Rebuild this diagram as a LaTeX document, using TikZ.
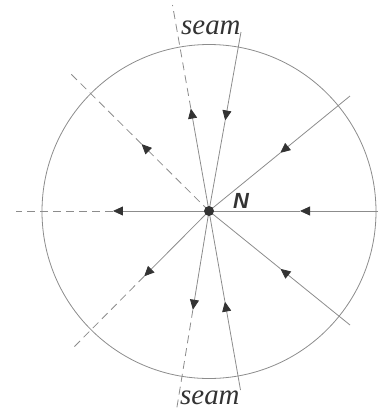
\documentclass[tikz,border=0pt]{standalone}
\usepackage{fontspec}
\setmainfont{Liberation Serif}
\newfontfamily\nfont{Liberation Sans}
\usetikzlibrary{arrows.meta,calc}
\definecolor{linegray}{HTML}{8C8C8C}
\definecolor{tipgray}{HTML}{333333}
\tikzset{
  flow/.style={draw=linegray, line width=0.8bp},
  seamline/.style={flow, dash pattern=on 8bp off 5bp},
  tipped/.style={-{Triangle[length=10bp,width=9bp,color=tipgray,fill=tipgray]}},
  seamlabel/.style={inner sep=0pt, anchor=base west, text=tipgray,
    font=\fontsize{29}{30}\selectfont\itshape},
}
\begin{document}
\begin{tikzpicture}[x=1bp,y=-1bp]
\useasboundingbox (0,0) rectangle (379,412);
\draw[flow] (209,211.5) circle[radius=167];
\coordinate (C) at (209,211);
% end points
\coordinate (eR) at (378,211);
\coordinate (eL) at (16,211);
\coordinate (eUR) at (350,96);
\coordinate (eLR) at (350,325);
\coordinate (eUL) at (70,73);
\coordinate (eLL) at (74,347);
\coordinate (eTS) at (172.5,5);
\coordinate (eTR) at (241,32);
\coordinate (eBS) at (176.5,410);
\coordinate (eBR) at (240.5,390);
% arrow points
\coordinate (aR) at ($(C)!91bp!(eR)$);
\coordinate (aL) at ($(C)!96bp!(eL)$);
\coordinate (aUR) at ($(C)!92bp!(eUR)$);
\coordinate (aLR) at ($(C)!92bp!(eLR)$);
\coordinate (aUL) at ($(C)!95bp!(eUL)$);
\coordinate (aLL) at ($(C)!92bp!(eLL)$);
\coordinate (aTS) at ($(C)!104bp!(eTS)$);
\coordinate (aTR) at ($(C)!92bp!(eTR)$);
\coordinate (aBS) at ($(C)!100bp!(eBS)$);
\coordinate (aBR) at ($(C)!92bp!(eBR)$);
% incoming lines
\foreach \k in {R,UR,LR,TR,BR}{
  \draw[flow,tipped] (e\k) -- (a\k);
  \draw[flow] (a\k) -- (C);
}
% outgoing lines
\foreach \k in {L,LL,TS,BS}{
  \draw[flow,tipped] (C) -- (a\k);
  \draw[seamline] (a\k) -- (e\k);
}
\draw[seamline,tipped] (C) -- (aUL);
\draw[seamline] (aUL) -- (eUL);
\node[circle, fill=tipgray, inner sep=0pt, minimum size=10bp] (N) at (C) {};
\node[inner sep=0pt, anchor=base west, text=tipgray,
  font=\nfont\fontsize{22}{24}\selectfont\itshape\bfseries] (Nlab) at (233,208.5) {N};
\node[seamlabel] (seamtop) at (181,34) {seam};
\node[seamlabel] (seambot) at (180,404) {seam};
\end{tikzpicture}
\end{document}
